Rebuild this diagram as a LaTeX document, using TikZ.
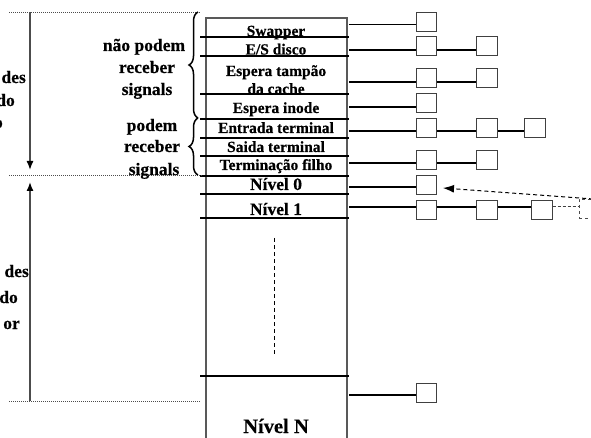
\documentclass[tikz,border=0pt]{standalone}
\usepackage{fontspec}
\setmainfont{Liberation Serif}[BoldFeatures={FakeBold=0.4}]
\usetikzlibrary{decorations.pathreplacing,arrows.meta}
\begin{document}
\begin{tikzpicture}[x=1pt,y=-1pt,
  qbox/.style={draw=black!75,line width=0.9pt,minimum width=20.5pt,minimum height=19pt,inner sep=0pt,fill=white},
  dqbox/.style={qbox,draw=black!70,dashed},
  rowline/.style={line width=1.6pt},
  link/.style={line width=1.5pt},
  colborder/.style={draw=black!65,line width=1.3pt},
  coltext/.style={font=\fontsize{15.5}{15.5}\selectfont\bfseries,anchor=base,inner sep=0pt},
  lvltext/.style={font=\fontsize{17.5}{17.5}\selectfont\bfseries,anchor=base,inner sep=0pt},
  bigtext/.style={font=\fontsize{20.5}{20.5}\selectfont\bfseries,anchor=base,inner sep=0pt},
  sidetext/.style={font=\fontsize{17.5}{17.5}\selectfont\bfseries,anchor=base,inner sep=0pt},
  cuttext/.style={font=\fontsize{17.5}{17.5}\selectfont\bfseries,anchor=base east,inner sep=0pt},
  dotline/.style={line width=0.9pt,black!70,dash pattern=on 1pt off 1pt},
  levarrow/.style={draw=black!70,line width=1.4pt,-{Latex[length=9pt,width=7pt,black]}},
  bracestyle/.style={decorate,decoration={brace,amplitude=9pt},line width=1.5pt},
  ]
\useasboundingbox (0,0) rectangle (591,438);

% column
\draw[colborder] (206,438) -- (206,18) -- (347,18) -- (347,438);
% row separators
\foreach \yy in {37,56,94,119,138,156,176,194,218,376}
  \draw[rowline] (200,\yy) -- (349,\yy);
% dashed vertical ellipsis
\draw[line width=0.9pt,dash pattern=on 4pt off 3pt] (274,238) -- (274,355);

% column texts
\node[coltext] (t1) at (276,36) {Swapper};
\node[coltext] (t2) at (276,54.5) {E/S disco};
\node[coltext] (t3) at (276,76) {Espera tampão};
\node[coltext] (t3b) at (276,94) {da cache};
\node[coltext] (t4) at (276,113) {Espera inode};
\node[coltext] (t5) at (276,133) {Entrada terminal};
\node[coltext] (t6) at (276,152) {Saida terminal};
\node[coltext] (t7) at (276,170) {Terminação filho};
\node[lvltext] (t8) at (276,190) {Nível 0};
\node[lvltext] (t9) at (276,215) {Nível 1};
\node[bigtext] (tN) at (276,433) {Nível N};

% side labels
\node[sidetext] (s1) at (144,51) {não podem};
\node[sidetext] (s2) at (147,73) {receber};
\node[sidetext] (s3) at (147,95) {signals};
\node[sidetext] (s4) at (152,131) {podem};
\node[sidetext] (s5) at (152,152) {receber};
\node[sidetext] (s6) at (154,175) {signals};

% left labels, cut by the picture edge as in the reference
\node[cuttext] (c1) at (26,83) {des};
\node[cuttext] (c2) at (15,106) {do};
\node[cuttext] (c3) at (3,128) {o};
\node[cuttext] (c4) at (29,277) {des};
\node[cuttext] (c5) at (18,303) {do};
\node[cuttext] (c6) at (20,329) {or};

% dotted separators
\draw[dotline] (9,12) -- (200,12);
\draw[dotline] (9,175) -- (203,175);
\draw[dotline] (9,401) -- (200,401);

% level arrows
\coordinate (ua) at (30,12);
\coordinate (ub) at (30,170);
\coordinate (la) at (30,401);
\coordinate (lb) at (30,182);
\draw[levarrow] (ua) -- (ub);
\draw[levarrow] (la) -- (lb);

% braces
\draw[bracestyle] (198,118) -- (198,12);
\draw[bracestyle] (198,175) -- (198,118);

% row anchors on the column
\coordinate (r1) at (349,24.7);
\coordinate (r2) at (349,50);
\coordinate (r3) at (349,82);
\coordinate (r4) at (349,107);
\coordinate (r5) at (349,131);
\coordinate (r6) at (349,163);
\coordinate (r7) at (349,187);
\coordinate (r8) at (349,207);
\coordinate (rN) at (349,395);

% boxes
\node[qbox] (b11) at (426.5,21.5) {};
\node[qbox] (b21) at (426.5,46.3) {};
\node[qbox] (b22) at (487,46.3) {};
\node[qbox] (b31) at (426.5,77.7) {};
\node[qbox] (b32) at (487,77.7) {};
\node[qbox] (b41) at (426.5,103) {};
\node[qbox] (b51) at (426.5,127.7) {};
\node[qbox] (b52) at (487,127.7) {};
\node[qbox] (b53) at (535,127.7) {};
\node[qbox] (b61) at (426.5,159.5) {};
\node[qbox] (b62) at (487,159.5) {};
\node[qbox] (b71) at (426.5,184.5) {};
\node[qbox] (b81) at (426.5,209.6) {};
\node[qbox] (b82) at (487,209.6) {};
\node[qbox] (b83) at (542,209.6) {};
\node[dqbox] (b84) at (589.5,208.5) {};
\node[qbox] (bN1) at (426.5,392.5) {};

% links
\draw[link] (r1) -- (r1 -| b11.west);
\draw[link] (r2) -- (r2 -| b21.west);
\draw[link] (r2 -| b21.east) -- (r2 -| b22.west);
\draw[link] (r3) -- (r3 -| b31.west);
\draw[link] (r3 -| b31.east) -- (r3 -| b32.west);
\draw[link] (r4) -- (r4 -| b41.west);
\draw[link] (r5) -- (r5 -| b51.west);
\draw[link] (r5 -| b51.east) -- (r5 -| b52.west);
\draw[link] (r5 -| b52.east) -- (r5 -| b53.west);
\draw[link] (r6) -- (r6 -| b61.west);
\draw[link] (r6 -| b61.east) -- (r6 -| b62.west);
\draw[link] (r7) -- (r7 -| b71.west);
\draw[link] (r8) -- (r8 -| b81.west);
\draw[link] (r8 -| b81.east) -- (r8 -| b82.west);
\draw[link] (r8 -| b82.east) -- (r8 -| b83.west);
\draw[line width=1pt,black!75,dash pattern=on 3pt off 2pt] (r8 -| b83.east) -- (r8 -| b84.west);
\draw[link] (rN) -- (rN -| bN1.west);

% dashed arrow to the Nivel 0 box
\coordinate (af) at (600,199.5);
\coordinate (at) at (443,188);
\draw[line width=1pt,dash pattern=on 4pt off 3pt,-{Latex[length=11pt,width=8pt]}] (af) -- (at);
\end{tikzpicture}
\end{document}
